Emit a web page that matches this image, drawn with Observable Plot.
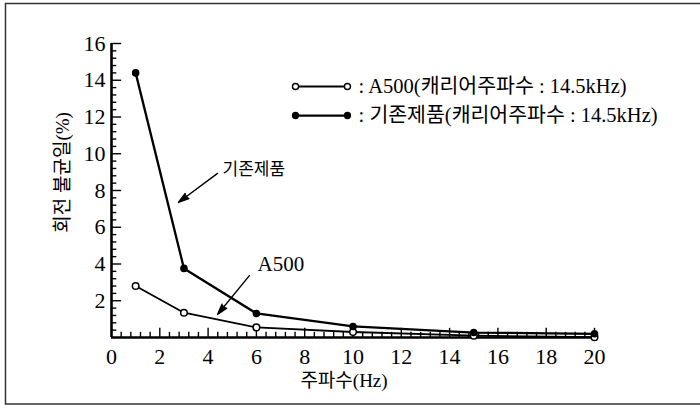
<!DOCTYPE html>
<html><head><meta charset="utf-8">
<script src="https://cdn.jsdelivr.net/npm/d3@7"></script>
<script src="https://cdn.jsdelivr.net/npm/@observablehq/plot@0.6"></script>
<style>
body{margin:0;background:#fff;}
#chart{position:relative;width:700px;height:408px;overflow:hidden;}
#chart svg text {font-family: "Liberation Serif", "Noto Sans CJK KR", serif !important; font-variant: normal !important;}
</style></head><body><div id="chart"></div>
<script>
// ---- data ----
const freq = [1, 3, 6, 10, 15, 20];
const a500 = [2.8, 1.35, 0.55, 0.3, 0.1, 0.02];
const existing = [14.4, 3.76, 1.31, 0.6, 0.27, 0.2];
const seriesNames = ["A500", "기존제품"];
const legendLabels = [": A500(캐리어주파수 : 14.5kHz)", ": 기존제품(캐리어주파수 : 14.5kHz)"];
const calloutLabels = ["기존제품", "A500"];
const xTicks = [0, 2, 4, 6, 8, 10, 12, 14, 16, 18, 20];
const yTicks = [2, 4, 6, 8, 10, 12, 14, 16];
const xLabel = "주파수(Hz)";
const yLabel = "회전 불균일(%)";

// ---- build ----
const FONT = '"Liberation Serif", "Noto Sans CJK KR", serif';
const rows = freq.flatMap((f, i) => [
  {series: seriesNames[0], x: f, y: a500[i]},
  {series: seriesNames[1], x: f, y: existing[i]}
]);
const minorX = d3.range(0.4, 20.01, 0.4).map(v => +v.toFixed(1));
const minorY = d3.range(0.4, 16.01, 0.4).map(v => +v.toFixed(1));
const isMajor = d => Math.abs(d / 2 - Math.round(d / 2)) < 1e-6;

// legend placement (data units)
const LX1 = 7.62, LX2 = 9.77, LXT = 10.23, LY = [13.66, 12.08];
const legendRows = seriesNames.map((s, i) => ({series: s, label: legendLabels[i], y: LY[i]}));
const legendPts = legendRows.flatMap(r => [{...r, x: LX1}, {...r, x: LX2}]);

// callouts (data units)
const callouts = [
  {label: calloutLabels[0], tx: 4.6, ty: 9.14, x1: 4.39, y1: 8.93, x2: 2.77, y2: 7.35, fs: 17},
  {label: calloutLabels[1], tx: 6.05, ty: 3.97, x1: 5.71, y1: 3.37, x2: 4.39, y2: 1.25, fs: 21}
];

const isOpen = s => s === seriesNames[0];

const chart = Plot.plot({
  width: 700, height: 408,
  marginLeft: 111, marginRight: 106, marginTop: 43, marginBottom: 71,
  x: {domain: [0, 20], axis: null},
  y: {domain: [0, 16], axis: null},
  style: {fontFamily: FONT, background: "#fff", color: "#000"},
  marks: [
    // tick labels
    Plot.text(xTicks, {x: d => d, frameAnchor: "bottom", dy: 19, text: d => String(d), fontSize: 22, fill: "#000", lineAnchor: "middle", fontFamily: FONT}),
    Plot.text(yTicks, {y: d => d, frameAnchor: "left", dx: -6, text: d => String(d), textAnchor: "end", fontSize: 22, fill: "#000", lineAnchor: "middle", fontFamily: FONT}),
    // inward ticks
    Plot.ruleX(minorX, {x: d => d, y1: 0, y2: d => isMajor(d) ? 0.5 : 0.28, stroke: "#000", strokeWidth: 1.4}),
    Plot.ruleY(minorY, {y: d => d, x1: 0, x2: d => isMajor(d) ? 0.42 : 0.22, stroke: "#000", strokeWidth: 1.4}),
    // axis lines
    Plot.ruleY([0], {x1: 0, x2: 20, stroke: "#000", strokeWidth: 2.6}),
    Plot.ruleX([0], {y1: 0, y2: 16, stroke: "#000", strokeWidth: 2.6}),
    // data lines
    Plot.line(rows, {x: "x", y: "y", z: "series", stroke: "#000", strokeWidth: d => isOpen(d.series) ? 1.8 : 2.3}),
    Plot.dot(rows, {x: "x", y: "y", r: d => isOpen(d.series) ? 4.2 : 3.6,
      fill: d => isOpen(d.series) ? "#fff" : "#000", stroke: "#000", strokeWidth: 1.5}),
    // legend
    Plot.line(legendPts, {x: "x", y: "y", z: "series", stroke: "#000", strokeWidth: d => isOpen(d.series) ? 1.8 : 2.3}),
    Plot.dot(legendPts, {x: "x", y: "y", r: d => isOpen(d.series) ? 3.6 : 3.4,
      fill: d => isOpen(d.series) ? "#fff" : "#000", stroke: "#000", strokeWidth: 1.4}),
    Plot.text(legendRows, {x: LXT, y: "y", text: "label", textAnchor: "start", lineAnchor: "middle", fontSize: 20.5, fill: "#000", fontFamily: FONT, letterSpacing: 0.5}),
    // callouts
    Plot.arrow(callouts, {x1: "x1", y1: "y1", x2: "x2", y2: "y2", stroke: "#000", fill: "#000", strokeWidth: 1.4, headLength: 12, headAngle: 32, bend: 0}),
    Plot.text(callouts, {x: "tx", y: "ty", text: "label", textAnchor: "start", lineAnchor: "middle", fontSize: d => d.fs, fill: "#000", fontFamily: FONT}),
    // axis titles
    Plot.text([xLabel], {frameAnchor: "bottom", dy: 43, dx: -9, fontSize: 19, fill: "#000", lineAnchor: "middle", fontFamily: FONT}),
    Plot.text([yLabel], {x: 0, y: 5.7, dx: -49, rotate: -90, textAnchor: "start", fontSize: 19, fill: "#000", lineAnchor: "middle", fontFamily: FONT})
  ]
});

document.getElementById("chart").appendChild(chart);
d3.select(chart).append("rect")
  .attr("x", 5.5).attr("y", 3.5).attr("width", 720).attr("height", 400.5)
  .attr("fill", "none").attr("stroke", "#333").attr("stroke-width", 1.5);
</script>
</body></html>
